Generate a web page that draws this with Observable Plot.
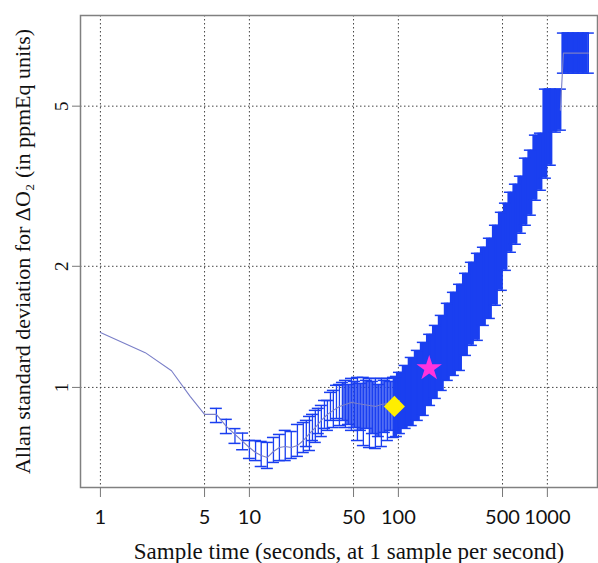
<!DOCTYPE html>
<html>
<head>
<meta charset="utf-8">
<script src="https://cdn.jsdelivr.net/npm/d3@7"></script>
<script src="https://cdn.jsdelivr.net/npm/@observablehq/plot@0.6"></script>
<style>
  html, body { margin: 0; padding: 0; background: #fff; }
  #chart { width: 598px; height: 563px; }
</style>
</head>
<body>
<div id="chart"></div>
<script>
// Sample time tau (seconds)
const tau = [1, 2, 3, 4, 5, 6, 7, 8, 9,
  10, 11.0, 12.0, 13.2, 14.5, 15.9, 17.4, 19.1, 21.0, 23.0, 25.3, 27.7, 30.4, 33.4, 36.6, 40.2,
  44.1, 48.4, 53.1, 58.2, 63.9, 70.1, 76.9, 84.4, 92.6, 101.6, 111, 122, 134, 147, 162, 177,
  194, 213, 234, 257, 282, 309, 339, 372, 408, 448, 491, 523, 565, 610, 659, 712, 769, 831,
  898, 970, 1047, 1132, 1223, 1281, 1383, 1494, 1615, 1744, 1884];
// Allan standard deviation (centre line)
const adev = [1.37, 1.22, 1.10, 0.95, 0.857, 0.857, 0.80, 0.764, 0.734,
  0.709, 0.689, 0.677, 0.670, 0.693, 0.709, 0.713, 0.709, 0.717, 0.738, 0.768, 0.795, 0.828, 0.857, 0.877, 0.897,
  0.907, 0.918, 0.912, 0.907, 0.902, 0.897, 0.907, 0.912, 0.912, 0.928, 0.955, 0.994, 1.035, 1.077, 1.121, 1.167,
  1.222, 1.287, 1.347, 1.418, 1.510, 1.600, 1.694, 1.794, 1.899, 2.034, 2.192, 2.375, 2.573, 2.694, 2.837, 3.055, 3.236, 3.505,
  3.670, 4.484, 4.750, 4.888, 4.888, 6.773, 6.773, 6.773, 6.773, 6.773, 6.773];
// Upper end of error bar
const hi = [1.37, 1.23, 1.11, 0.96, 0.865, 0.887, 0.833, 0.79, 0.77,
  0.738, 0.738, 0.734, 0.730, 0.751, 0.764, 0.782, 0.777, 0.809, 0.818, 0.847, 0.877, 0.902, 0.928, 0.983, 1.017,
  1.041, 1.053, 1.059, 1.059, 1.053, 1.053, 1.053, 1.053, 1.059, 1.090, 1.134, 1.187, 1.236, 1.294, 1.355, 1.426,
  1.510, 1.618, 1.723, 1.804, 1.921, 2.046, 2.154, 2.230, 2.348, 2.529, 2.724, 2.870, 3.055, 3.199, 3.349, 3.713, 3.887, 4.236,
  4.284, 5.512, 5.512, 5.512, 5.512, 7.597, 7.597, 7.597, 7.597, 7.597, 7.597];
// Lower end of error bar
const lo = [1.37, 1.21, 1.09, 0.94, 0.85, 0.818, 0.768, 0.726, 0.70,
  0.666, 0.658, 0.636, 0.629, 0.651, 0.658, 0.658, 0.666, 0.674, 0.689, 0.697, 0.730, 0.755, 0.782, 0.795, 0.804,
  0.795, 0.782, 0.738, 0.717, 0.709, 0.705, 0.713, 0.738, 0.751, 0.768, 0.791, 0.804, 0.828, 0.852, 0.902, 0.939,
  0.983, 1.041, 1.071, 1.102, 1.201, 1.272, 1.309, 1.426, 1.484, 1.600, 1.743, 1.954, 2.167, 2.269, 2.416, 2.529, 2.679, 2.918,
  3.090, 3.311, 3.566, 4.309, 4.358, 6.039, 6.039, 6.039, 6.039, 6.039, 6.039];

// Overlapping estimates in the 24-100 s range (error bars only)
const tau2 = [24.1, 26.5, 29.0, 31.9, 35.0, 38.4, 42.1, 46.2, 50.7, 55.6, 61.0, 66.9, 73.4, 80.5, 88.4, 97.0];
const hi2 = [0.828, 0.857, 0.887, 0.928, 0.972, 1.012, 1.029, 1.017, 1.035, 1.023, 1.041, 1.035, 1.017, 1.041, 1.035, 1.065];
const lo2 = [0.713, 0.738, 0.768, 0.791, 0.828, 0.837, 0.828, 0.809, 0.795, 0.782, 0.791, 0.768, 0.755, 0.773, 0.782, 0.755];

// Highlighted points
const diamondPt = [{tau: 94, value: 0.897}];
const starPt = [{tau: 161, value: 1.115}];

const xTicks = [1, 5, 10, 50, 100, 500, 1000];
const yTicks = [1, 2, 5];

const xTitle = "Sample time (seconds, at 1 sample per second)";
const yTitle = "Allan standard deviation for \u0394O\u2082 (in ppmEq units)";

const data = tau.map((t, i) => ({tau: t, adev: adev[i], lo: lo[i], hi: hi[i]}));
const data2 = tau2.map((t, i) => ({tau: t, lo: lo2[i], hi: hi2[i]}));
const bars = data.concat(data2);

const blue = "#1a3ff0";
const slate = "#7a7fc8";
const capRatio = 1.097;
const hasBar = d => d.hi / d.lo > 1.05;
const serif = "'Liberation Serif', 'Times New Roman', serif";

const chart = Plot.plot({
  width: 598,
  height: 563,
  marginLeft: 80,
  marginRight: 1,
  marginTop: 15,
  marginBottom: 76,
  style: {background: "#fff", overflow: "visible"},
  x: {type: "log", domain: [0.735, 2170]},
  y: {type: "log", domain: [0.564, 8.4]},
  marks: [
    Plot.ruleX(xTicks, {x: d => d, stroke: "#444", strokeDasharray: "1.5,2.5", strokeWidth: 1}),
    Plot.ruleY(yTicks, {y: d => d, stroke: "#444", strokeDasharray: "1.5,2.5", strokeWidth: 1}),
    Plot.areaY(data2, {filter: d => d.tau >= 40, x: "tau", y1: "lo", y2: "hi", fill: blue, fillOpacity: 0.75, curve: "step"}),
    Plot.areaY(data, {filter: d => d.tau >= 90, x: "tau", y1: "lo", y2: "hi", fill: blue, curve: "step"}),
    Plot.ruleX(bars, {filter: hasBar, x: "tau", y1: "lo", y2: "hi", stroke: blue, strokeWidth: 1.3}),
    Plot.ruleY(bars, {filter: hasBar, y: "hi", x1: d => d.tau / capRatio, x2: d => d.tau * capRatio, stroke: blue, strokeWidth: 1.5}),
    Plot.ruleY(bars, {filter: hasBar, y: "lo", x1: d => d.tau / capRatio, x2: d => d.tau * capRatio, stroke: blue, strokeWidth: 1.5}),
    Plot.line(data, {filter: d => d.tau <= 102, x: "tau", y: "adev", stroke: slate, strokeWidth: 1.1}),
    Plot.line(data, {filter: d => d.tau >= 1200, x: "tau", y: "adev", stroke: slate, strokeWidth: 1.1}),
    Plot.dot(diamondPt, {x: "tau", y: "value", symbol: "diamond2", r: 9.5, fill: "#ffee00", stroke: "none"}),
    Plot.dot(starPt, {x: "tau", y: "value", symbol: "star", r: 8, fill: "#ff33dd", stroke: "none"}),
    Plot.frame({stroke: "#808080", strokeWidth: 1.5}),
    Plot.axisX({ticks: xTicks, tickSize: 10, tickFormat: () => "", label: null, stroke: "#777"}),
    Plot.text(xTicks, {x: d => d, text: d => String(d), frameAnchor: "bottom", dy: 30,
      textAnchor: "middle", lineAnchor: "middle", fontSize: 20, fontFamily: "Lato, 'Open Sans', sans-serif", fill: "#111"}),
    Plot.axisY({ticks: yTicks, tickSize: 8, tickFormat: () => "", label: null, stroke: "#777"}),
    Plot.text(yTicks, {y: d => d, text: d => String(d), frameAnchor: "left", dx: -19, rotate: -90,
      textAnchor: "middle", lineAnchor: "middle", fontSize: 19, fontFamily: serif, fill: "#111"}),
    Plot.text([yTitle], {text: d => d, frameAnchor: "left", dx: -58, rotate: -90,
      textAnchor: "middle", lineAnchor: "middle", fontSize: 22, fontFamily: serif, fill: "#111"}),
    Plot.text([xTitle], {text: d => d, frameAnchor: "bottom", dy: 64, dx: 10,
      textAnchor: "middle", lineAnchor: "middle", fontSize: 23, fontFamily: serif, fill: "#111"})
  ]
});
document.getElementById("chart").appendChild(chart);
</script>
</body>
</html>
